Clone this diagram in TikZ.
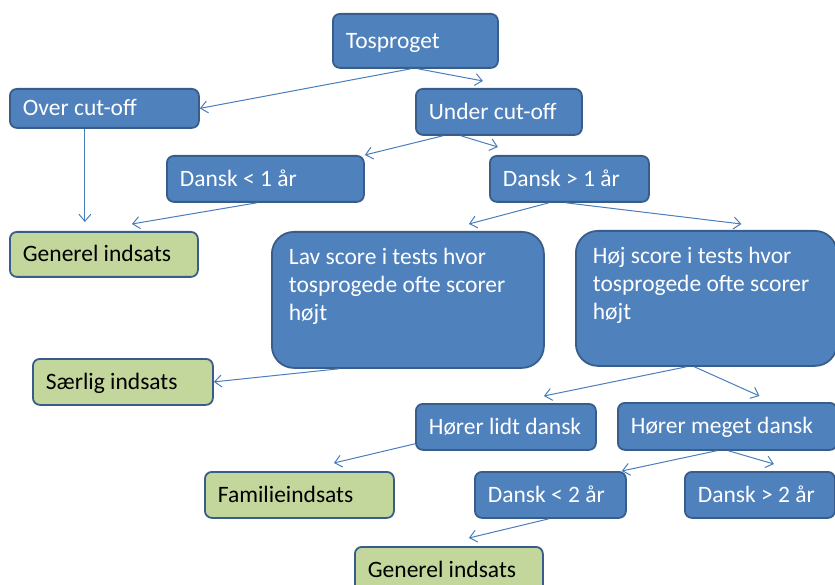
\documentclass[tikz,border=0pt]{standalone}
\usepackage{fontspec}
\setmainfont{Carlito}
\usepackage{tikz}
\usetikzlibrary{arrows.meta}
\definecolor{boxblue}{HTML}{4F81BD}
\definecolor{boxborder}{HTML}{385D8A}
\definecolor{boxgreen}{HTML}{C3D69B}
\definecolor{arrowblue}{HTML}{4A7EBB}
\tikzset{
  stepbox/.style={draw=boxborder, line width=1.8pt, rounded corners=7pt, anchor=north west,
    inner xsep=13pt, inner ysep=0pt, font=\fontsize{23.5}{28}\selectfont,
    text height=21pt, text depth=6pt},
  questbox/.style={stepbox, fill=boxblue, text=white},
  actionbox/.style={stepbox, fill=boxgreen, text=black},
  bigbox/.style={questbox, rounded corners=22pt, inner xsep=17pt, text height=33pt},
  flow/.style={draw=arrowblue, line width=1pt, -{Straight Barb[length=7pt,width=12pt]}}
}
\newcommand{\questnode}[5] {\pgfmathsetmacro{\boxtw}{#3-26}\node at (#1) (#2) [questbox, minimum width=#3pt, minimum height=#4pt] {\makebox[\boxtw pt][l]{#5}};}
\newcommand{\actionnode}[5] {\pgfmathsetmacro{\boxtw}{#3-26}\node at (#1) (#2) [actionbox, minimum width=#3pt, minimum height=#4pt] {\makebox[\boxtw pt][l]{#5}};}
\newcommand{\bignode}[5] {\pgfmathsetmacro{\boxtw}{#3-34}\pgfmathsetmacro{\boxtd}{#4-33}\node at (#1) (#2) [bigbox, minimum width=#3pt, minimum height=#4pt, text depth=\boxtd pt] {\parbox[t]{\boxtw pt}{\raggedright #5}};}
\newcommand{\flowarrow}[2] {\draw [flow] (#1) -- (#2);}

\begin{document}
\begin{tikzpicture}[x=1pt, y=-1pt]
\useasboundingbox (0,0) rectangle (835,585);
\questnode {332,13} {tos} {165} {54} {Tosproget};
\questnode {9,88} {over} {189} {39} {Over cut-off};
\questnode {415,88} {under} {166} {46} {Under cut-off};
\questnode {166,155} {dlessone} {197} {46} {Dansk < 1 år};
\questnode {489,155} {dmoreone} {159} {46} {Dansk > 1 år};
\actionnode {9,231} {genone} {188} {45} {Generel indsats};
\bignode {271,231} {lav} {272} {136} {Lav score i tests hvor\\tosprogede ofte scorer\\højt};
\bignode {575,230} {hoj} {261} {135} {Høj score i tests hvor\\tosprogede ofte scorer\\højt};
\actionnode {32,358} {saerlig} {180} {46} {Særlig indsats};
\questnode {415,403} {lidt} {180} {46} {Hører lidt dansk};
\questnode {617,402} {meget} {219} {47} {Hører meget dansk};
\actionnode {204,471} {familie} {189} {46} {Familieindsats};
\questnode {474,471} {dlesstwo} {151} {46} {Dansk < 2 år};
\questnode {684,471} {dmoretwo} {150} {46} {Dansk > 2 år};
\actionnode {354,546} {gentwo} {188} {46} {Generel indsats};

\flowarrow{[xshift=-4.5pt]tos.south}{over.east};
\flowarrow{[xshift=2.5pt]tos.south}{[xshift=-16pt,yshift=7pt]under.north};
\flowarrow{[xshift=-19.5pt]over.south}{[xshift=-19pt,yshift=9pt]genone.north};
\flowarrow{[xshift=-56pt]under.south}{dlessone.north east};
\flowarrow{[xshift=-38pt]under.south}{[xshift=-71.5pt,yshift=8pt]dmoreone.north};
\flowarrow{[xshift=-8.5pt]dlessone.south}{[xshift=28pt,yshift=7pt]genone.north};
\flowarrow{[xshift=-20.5pt]dmoreone.south}{[xshift=61pt,yshift=7pt]lav.north};
\flowarrow{[xshift=-3.5pt]dmoreone.south}{[xshift=35pt,yshift=6pt]hoj.north};
\flowarrow{[xshift=-69pt]lav.south}{saerlig.east};
\flowarrow{[xshift=-20pt]hoj.south}{[xshift=38pt,yshift=7pt]lidt.north};
\flowarrow{[xshift=-12pt]hoj.south}{[xshift=32pt,yshift=6pt]meget.north};
\flowarrow{[yshift=7pt]lidt.south west}{[xshift=34.5pt,yshift=8pt]familie.north};
\flowarrow{[xshift=-11pt]meget.south}{[xshift=-5pt]dlesstwo.north east};
\flowarrow{[xshift=1pt]meget.south}{[xshift=14pt,yshift=7pt]dmoretwo.north};
\flowarrow{[xshift=-1.5pt]dlesstwo.south}{[xshift=20pt,yshift=8pt]gentwo.north};
\end{tikzpicture}
\end{document}
